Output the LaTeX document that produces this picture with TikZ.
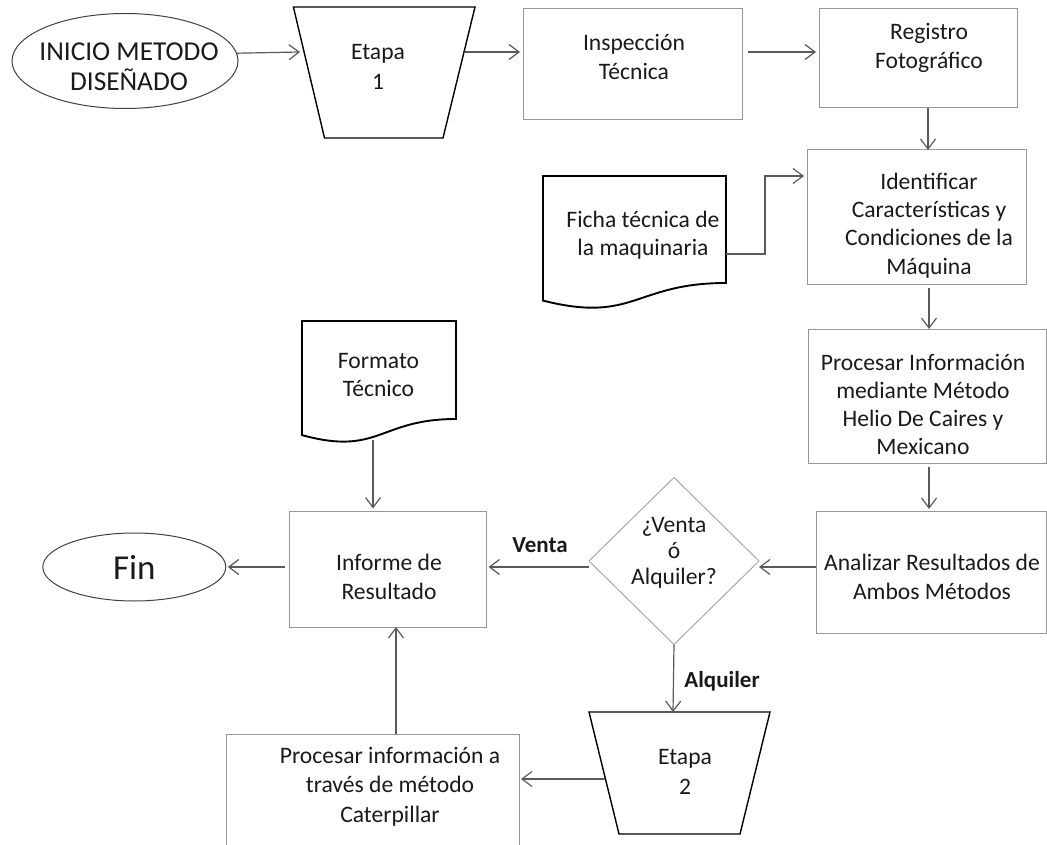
\documentclass[tikz,border=0pt]{standalone}
\usepackage{fontspec}
\setmainfont{Carlito}
\usetikzlibrary{shapes.geometric,arrows.meta,fit,calc}
\definecolor{linkgray}{HTML}{5A5A5A}
\definecolor{framegray}{HTML}{969696}
\definecolor{diagray}{HTML}{A8A8A8}
\definecolor{rimgray}{HTML}{404040}
\definecolor{inkblack}{HTML}{1A1A1A}

\tikzset{
  procbox/.style={draw=framegray, line width=1pt, rectangle, inner sep=0pt, outer sep=0pt},
  termin/.style={draw=rimgray, line width=1pt, ellipse, inner sep=0pt, outer sep=0pt},
  decis/.style={draw=diagray, line width=1pt, diamond, inner sep=0pt, outer sep=0pt},
  stage/.style={draw=black, line width=1.4pt, line join=miter},
  docu/.style={draw=black, line width=1.9pt},
  arr/.style={draw=linkgray, line width=1.2pt, -{Straight Barb[length=10pt,width=15pt]}},
  lbl/.style={align=center, inner sep=0pt, text=inkblack, font=\fontsize{23.6}{28.3}\selectfont},
  tag/.style={inner sep=0pt, text=inkblack, font=\fontsize{23}{27}\selectfont\bfseries},
}

\begin{document}
\begin{tikzpicture}[x=1pt,y=-1pt]
\useasboundingbox (0,0) rectangle (1047,845);
\clip (0,0) rectangle (1047,845);

% --- terminals ---
\node[termin, minimum width=226pt, minimum height=95pt] (ini) at (125,61) {};
\node[lbl, font=\fontsize{27.3}{30}\selectfont] (initxt) at (129,67) {INICIO METODO\\DISEÑADO};

\node[termin, minimum width=183pt, minimum height=68pt] (fin) at (134.3,567) {};
\node[lbl, font=\fontsize{35}{40}\selectfont] (fintxt) at (134.3,567) {Fin};

% --- stage 1 (inverted trapezoid) ---
\draw[stage] (293.4,7) -- (475,7) -- (443,138) -- (324.5,138) -- cycle;
\coordinate (e1w) at (300,52);
\coordinate (e1e) at (464.5,52);
\node[lbl, font=\fontsize{23.6}{30}\selectfont] (e1) at (378,67) {Etapa\\1};

% --- process boxes ---
\node[procbox, fit={(523.5,8.5) (742.5,120)}] (ins) {};
\node[lbl, font=\fontsize{23.6}{29}\selectfont] (instxt) at (634,56.5) {Inspección\\Técnica};

\node[procbox, fit={(819,8.5) (1017.5,108)}] (reg) {};
\node[lbl, font=\fontsize{23.6}{29}\selectfont] (regtxt) at (929,47.5) {Registro\\Fotográfico};

\node[procbox, fit={(807,150) (1026,284)}] (idf) {};
\node[lbl] (idftxt) at (929,225.5) {Identificar\\Características y\\Condiciones de la\\Máquina};

\node[procbox, fit={(808,329) (1046,463)}] (pro) {};
\node[lbl] (protxt) at (923,404.5) {Procesar Información\\mediante Método\\Helio De Caires y\\Mexicano};

\node[procbox, fit={(816,511) (1046,633)}] (ana) {};
\node[lbl] (anatxt) at (932,577) {Analizar Resultados de\\Ambos Métodos};

\node[procbox, fit={(289.5,511) (486.5,627)}] (inf) {};
\node[lbl] (inftxt) at (389,577) {Informe de\\Resultado};

\node[procbox, fit={(226,734) (519,880)}] (cat) {};
\node[lbl, font=\fontsize{23.6}{29.5}\selectfont] (cattxt) at (390,786.5) {Procesar información a\\través de método\\Caterpillar};

% --- documents ---
\draw[docu] (543,176) -- (726,176) -- (726,283) .. controls (634.5,283) and (634.5,323.7) .. (543,300.6) -- cycle;
\coordinate (ficr) at (726,254);
\node[lbl] (fictxt) at (643,235) {Ficha técnica de\\la maquinaria};

\draw[docu] (302,321) -- (456,321) -- (456,419) .. controls (379,419) and (379,456.3) .. (302,435.1) -- cycle;
\coordinate (forb) at (373,440);
\node[lbl] (fortxt) at (378.5,375) {Formato\\Técnico};

% --- decision ---
\node[decis, minimum width=170pt, minimum height=167pt] (dia) at (674,561) {};
\node[lbl, font=\fontsize{23.6}{26}\selectfont] (diatxt) at (674,553) {¿Venta\\ó\\Alquiler?};

% --- stage 2 (inverted trapezoid) ---
\draw[stage] (589,712) -- (770,712) -- (740,834) -- (619,834) -- cycle;
\coordinate (e2n) at (673,712);
\coordinate (e2w) at (605,779);
\node[lbl, font=\fontsize{23.6}{30}\selectfont] (e2) at (685,772) {Etapa\\2};

% --- connectors ---
\draw[arr] (ini.4.6) -- (e1w);
\draw[arr, shorten >=3.5pt] (e1e) -- (ins.west |- e1e);
\draw[arr, shorten <=5.5pt, shorten >=3pt] (ins.east |- 0,52) -- (reg.west |- 0,52);
\draw[arr] (reg.south -| 928,0) -- (idf.north -| 928,0);
\draw[arr, shorten <=4pt] (idf.south -| 929,0) -- (pro.north -| 929,0);
\draw[arr, shorten <=4pt, shorten >=2pt] (pro.south -| 929,0) -- (ana.north -| 929,0);
\draw[arr, shorten >=3pt] (ficr) -- ++(39,0) |- (idf.west |- 0,176);
\draw[arr] (ana.west |- 0,567) -- (dia.east |- 0,567);
\draw[arr, shorten >=2pt] (dia.west |- 0,567) -- (inf.east |- 0,567);
\draw[arr, shorten <=4.5pt, shorten >=2pt] (inf.west |- 0,567) -- (fin.east);
\draw[arr, shorten >=2.5pt] (forb) -- (inf.north -| forb);
\draw[arr] (dia.south) -- (e2n);
\draw[arr, shorten >=2pt] (e2w) -- (cat.east |- e2w);
\draw[arr] (cat.north -| 396,0) -- (inf.south -| 396,0);

% --- branch labels ---
\node[tag] (venta) at (540,545) {Venta};
\node[tag] (alq) at (722,681) {Alquiler};
\end{tikzpicture}
\end{document}
